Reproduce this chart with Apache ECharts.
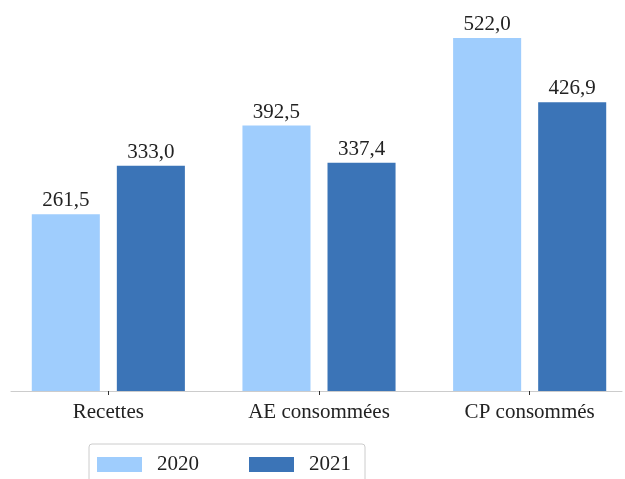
<!DOCTYPE html>
<html><head><meta charset="utf-8">
<script src="https://cdn.jsdelivr.net/npm/echarts@6/dist/echarts.min.js"></script>
<style>html,body{margin:0;padding:0;background:#fff}#c{width:625px;height:479px}</style>
</head><body><div id="c"></div>
<script>
const categories = ['Recettes', 'AE consommées', 'CP consommés'];
const seriesNames = ['2020', '2021'];
const values2020 = [261.5, 392.5, 522.0];
const values2021 = [333.0, 337.4, 426.9];

const FONT = '"Liberation Serif", "Times New Roman", Times, serif';
const chart = echarts.init(document.getElementById('c'), null, {renderer: 'canvas'});
const labelFmt = p => p.value.toFixed(1).replace('.', ',');
chart.setOption({
  animation: false,
  textStyle: {fontFamily: FONT},
  grid: [
    {left: 3, width: 632, top: 19, bottom: 88, containLabel: false, outerBoundsMode: 'none'},
    {left: 11, right: 3, top: 19, bottom: 88, containLabel: false, outerBoundsMode: 'none'}
  ],
  legend: {
    left: 89, top: 444,
    data: seriesNames,
    itemWidth: 45, itemHeight: 15, itemGap: 50,
    padding: [10, 14, 10, 8],
    borderColor: '#cccccc', borderWidth: 1, borderRadius: 3,
    icon: 'rect',
    textStyle: {fontFamily: FONT, fontSize: 21, color: '#222', padding: [0, 0, 0, 10]}
  },
  xAxis: [
    {
      type: 'category', data: categories, gridIndex: 0,
      axisLine: {show: false},
      axisTick: {show: true, alignWithLabel: true, length: 4, lineStyle: {color: '#333'}},
      axisLabel: {fontFamily: FONT, fontSize: 21, color: '#222', margin: 11}
    },
    {
      type: 'value', gridIndex: 1, min: 0, max: 1,
      axisLine: {show: true, lineStyle: {color: '#cccccc', width: 1}},
      axisTick: {show: false}, axisLabel: {show: false}, splitLine: {show: false}
    }
  ],
  yAxis: [
    {type: 'value', gridIndex: 0, min: 0, max: 550, show: false, splitLine: {show: false}},
    {type: 'value', gridIndex: 1, min: 0, max: 1, show: false, splitLine: {show: false}}
  ],
  series: [
    {
      name: seriesNames[0], type: 'bar', data: values2020, xAxisIndex: 0, yAxisIndex: 0,
      barWidth: '32.3%', barGap: '25%',
      itemStyle: {color: '#9fcdfd'},
      label: {show: true, position: 'top', distance: 3, formatter: labelFmt,
              fontFamily: FONT, fontSize: 21, color: '#222'}
    },
    {
      name: seriesNames[1], type: 'bar', data: values2021, xAxisIndex: 0, yAxisIndex: 0,
      barWidth: '32.3%', barGap: '25%',
      itemStyle: {color: '#3b74b7'},
      label: {show: true, position: 'top', distance: 3, formatter: labelFmt,
              fontFamily: FONT, fontSize: 21, color: '#222'}
    }
  ]
});
</script></body></html>
